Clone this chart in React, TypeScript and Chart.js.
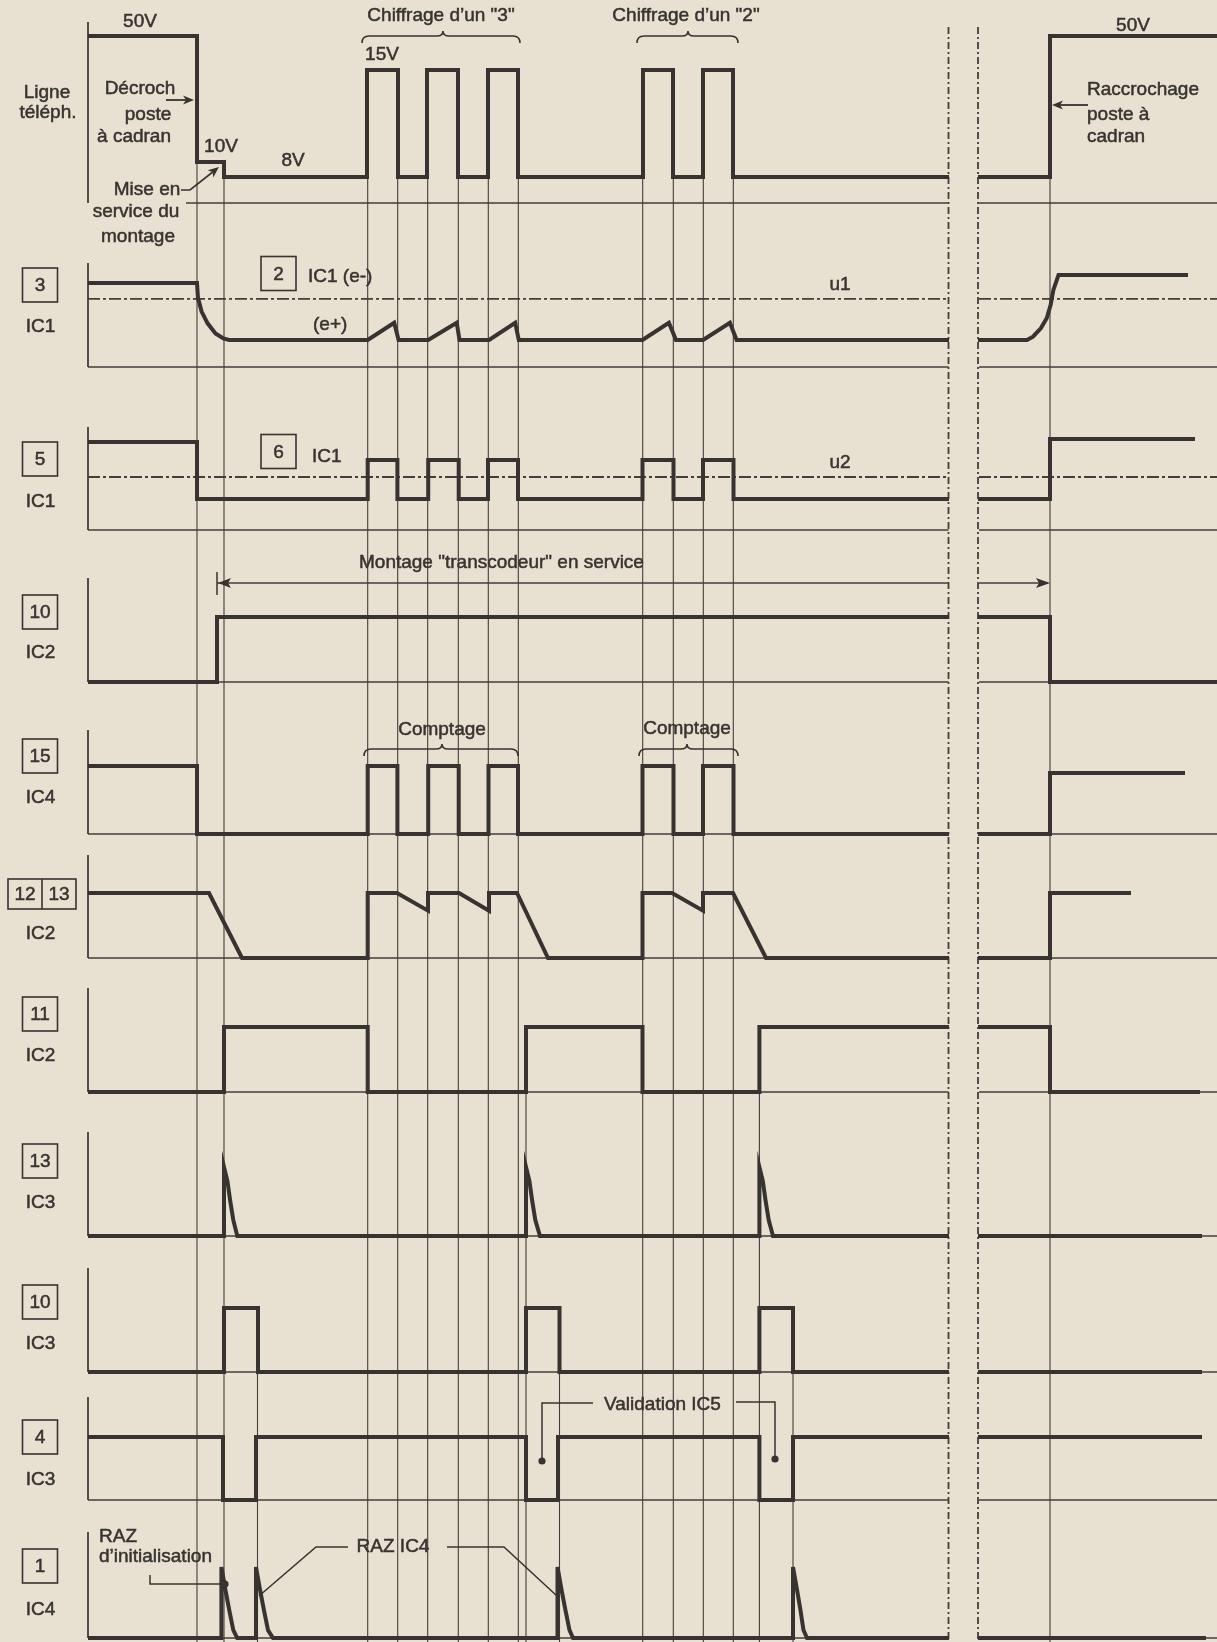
import React, { useEffect, useRef } from 'react';
import { Chart, registerables } from 'chart.js';

Chart.register(...registerables);

const W = 1217;
const H = 1642;
const PAPER = '#e8e0d1';
const INK = '#363330';
const FONT = '19px "Liberation Sans", Arial, Helvetica, sans-serif';

// ---- time axis: break of the time axis (dashed verticals) ----
const breakMarks = [948.5, 978];
const BRK = null;

// ---- signals: [time, level] (level 0 = row baseline, 1 = nominal high) ----
type P = [number, number] | null;

const ligneTel: P[] = [[88, 1], [197, 1], [197, 0.245], [224, 0.245], [224, 0.156], [367, 0.156], [367, 0.796], [398, 0.796], [398, 0.156], [427, 0.156], [427, 0.796], [458, 0.796], [458, 0.156], [488, 0.156], [488, 0.796], [518, 0.796], [518, 0.156], [643, 0.156], [643, 0.796], [673, 0.796], [673, 0.156], [703, 0.156], [703, 0.796], [733, 0.796], [733, 0.156], [949, 0.156], BRK, [978, 0.156], [1050, 0.156], [1050, 1], [1217, 1]];

const ic1Pin3: P[] = [[88, 1], [197, 1], [198, 0.82], [201.6, 0.66], [207.6, 0.52], [215.5, 0.4], [223.4, 0.34], [229, 0.321], [367.7, 0.321], [394.2, 0.527], [398.6, 0.321], [428.2, 0.321], [456.7, 0.527], [459.5, 0.321], [489.1, 0.321], [515.2, 0.527], [518.8, 0.321], [642.5, 0.321], [668.9, 0.527], [676, 0.321], [703.1, 0.321], [729.9, 0.527], [736.6, 0.321], [949, 0.321], BRK, [978, 0.321], [1027, 0.321], [1033, 0.361], [1040.8, 0.461], [1046.7, 0.58], [1050.6, 0.738], [1053.4, 0.917], [1058.5, 1.095], [1188, 1.095]];

const ic1Pin5: P[] = [[88, 1], [197, 1], [197, 0.352], [367.7, 0.352], [367.7, 0.795], [397.4, 0.795], [397.4, 0.352], [428.2, 0.352], [428.2, 0.795], [458.7, 0.795], [458.7, 0.352], [488, 0.352], [488, 0.795], [518, 0.795], [518, 0.352], [642.5, 0.352], [642.5, 0.795], [673.5, 0.795], [673.5, 0.352], [703, 0.352], [703, 0.795], [733.5, 0.795], [733.5, 0.352], [949, 0.352], BRK, [978, 0.352], [1050, 0.352], [1050, 1.034], [1195, 1.034]];

const ic2Pin10: P[] = [[88, 0], [217, 0], [217, 1], [949, 1], BRK, [978, 1], [1050, 1], [1050, 0], [1217, 0]];

const ic4Pin15: P[] = [[88, 1], [197, 1], [197, 0], [367.7, 0], [367.7, 1], [397.4, 1], [397.4, 0], [428.2, 0], [428.2, 1], [458.7, 1], [458.7, 0], [488.5, 0], [488.5, 1], [518, 1], [518, 0], [642.5, 0], [642.5, 1], [673.5, 1], [673.5, 0], [703, 0], [703, 1], [733.5, 1], [733.5, 0], [949, 0], BRK, [978, 0], [1050, 0], [1050, 0.897], [1185, 0.897]];

const ic2Pin1213: P[] = [[88, 1], [209, 1], [242, 0], [367.7, 0], [367.7, 1], [397, 1], [428, 0.728], [428, 1], [459, 1], [489, 0.728], [489, 1], [517, 1], [548, 0], [642.5, 0], [642.5, 1], [672, 1], [703, 0.728], [703, 1], [733, 1], [766, 0], [949, 0], BRK, [978, 0], [1050, 0], [1050, 1], [1131, 1]];

const ic2Pin11: P[] = [[88, 0], [224, 0], [224, 1], [367.7, 1], [367.7, 0], [526, 0], [526, 1], [642.5, 1], [642.5, 0], [759.4, 0], [759.4, 1], [949, 1], BRK, [978, 1], [1050, 1], [1050, 0], [1200, 0]];

const ic3Pin13: P[] = [[88, 0], [224, 0], [224, 1], [227.4, 0.8], [230.1, 0.52], [233.3, 0.23], [237.3, 0], [526, 0], [526, 1], [529.4, 0.8], [532.1, 0.52], [535.3, 0.23], [540, 0], [759.4, 0], [759.4, 1], [762.8, 0.8], [765.5, 0.52], [768.7, 0.23], [773, 0], [949, 0], BRK, [978, 0], [1202, 0]];

const ic3Pin10: P[] = [[88, 0], [224, 0], [224, 1], [258, 1], [258, 0], [526, 0], [526, 1], [559.5, 1], [559.5, 0], [759.4, 0], [759.4, 1], [793, 1], [793, 0], [949, 0], BRK, [978, 0], [1202, 0]];

const ic3Pin4: P[] = [[88, 1], [223, 1], [223, 0], [256, 0], [256, 1], [526, 1], [526, 0], [558, 0], [558, 1], [759.4, 1], [759.4, 0], [793, 0], [793, 1], [949, 1], BRK, [978, 1], [1202, 1]];

const ic4Pin1: P[] = [[88, 0], [221.4, 0], [221.4, 1], [225.4, 0.68], [229.3, 0.39], [233.3, 0.11], [237.2, 0], [256, 0], [256, 1], [260, 0.68], [264, 0.39], [268, 0.11], [273, 0], [557.5, 0], [557.5, 1], [561.5, 0.68], [565.5, 0.39], [569.5, 0.11], [573, 0], [793, 0], [793, 1], [797, 0.68], [800.5, 0.39], [803.5, 0.11], [807, 0], [949, 0], BRK, [978, 0], [1206, 0]];

const signals: P[][] = [ligneTel, ic1Pin3, ic1Pin5, ic2Pin10, ic4Pin15, ic2Pin1213, ic2Pin11, ic3Pin13, ic3Pin10, ic3Pin4, ic4Pin1];

// threshold levels (dash-dot) u1 on row 1, u2 on row 2
const thresholds = [
  { row: 1, level: 0.81, label: 'u1' },
  { row: 2, level: 0.602, label: 'u2' },
];

// row pins / chips
const rowPins: string[][] = [['3'], ['5'], ['10'], ['15'], ['12', '13'], ['11'], ['13'], ['10'], ['4'], ['1']];
const rowChips = ['IC1', 'IC1', 'IC2', 'IC4', 'IC2', 'IC2', 'IC3', 'IC3', 'IC3', 'IC4'];

// guide verticals: [time, row where it starts, level where it starts]
const guides: [number, number, number][] = [
  [197, 0, 0.245], [224, 0, 0.156],
  [367.7, 0, 0.156], [397.7, 0, 0.156], [427.7, 0, 0.156], [458.3, 0, 0.156], [488.3, 0, 0.156], [518.3, 0, 0.156],
  [642.7, 0, 0.156], [673.3, 0, 0.156], [703.3, 0, 0.156], [733.3, 0, 0.156],
  [1050, 0, 0.156],
  [526, 6, 1], [759.4, 6, 1],
  [257.5, 8, 1], [559.5, 8, 1], [793, 8, 1],
];

// ---- layout (positions in diagram units) ----
const rowLayout = [
  { base: 203, amp: 167, top: 22, from: 186 },
  { base: 367, amp: 84, top: 263, from: 88 },
  { base: 530, amp: 88, top: 427, from: 88 },
  { base: 682, amp: 65, top: 578, from: 88 },
  { base: 834, amp: 68, top: 730, from: 88 },
  { base: 958, amp: 65, top: 855, from: 88 },
  { base: 1092, amp: 65, top: 988, from: 88 },
  { base: 1236, amp: 69, top: 1132, from: 88 },
  { base: 1372, amp: 64, top: 1268, from: 88 },
  { base: 1500, amp: 63, top: 1397, from: 88 },
  { base: 1638, amp: 71, top: 1532, from: 88 },
];
const pinBoxY = [285, 459, 612, 756, 894, 1014, 1161, 1302, 1437, 1566];
const chipY = [327, 502, 653, 798, 934, 1056, 1203, 1344, 1480, 1610];

const texts: [string, number, number, CanvasTextAlign][] = [
  ['50V', 140, 22, 'center'],
  ['Ligne', 47, 93, 'center'],
  ['téléph.', 48, 113, 'center'],
  ['Décroch', 140, 89, 'center'],
  ['poste', 148, 115, 'center'],
  ['à cadran', 134, 137, 'center'],
  ['10V', 221, 147, 'center'],
  ['8V', 293, 161, 'center'],
  ['Mise en', 147, 190, 'center'],
  ['service du', 136, 212, 'center'],
  ['montage', 138, 237, 'center'],
  ['15V', 382, 55, 'center'],
  ['Chiffrage d’un "3"', 441, 16, 'center'],
  ['Chiffrage d’un "2"', 686, 16, 'center'],
  ['50V', 1133, 26, 'center'],
  ['Raccrochage', 1087, 90, 'left'],
  ['poste à', 1087, 115, 'left'],
  ['cadran', 1087, 137, 'left'],
  ['IC1 (e-)', 308, 277, 'left'],
  ['(e+)', 313, 325, 'left'],
  ['IC1', 312, 457, 'left'],
  ['Montage "transcodeur" en service', 359, 563, 'left'],
  ['Comptage', 442, 730, 'center'],
  ['Comptage', 687, 729, 'center'],
  ['Validation IC5', 604, 1405, 'left'],
  ['RAZ', 99, 1537, 'left'],
  ['d’initialisation', 99, 1557, 'left'],
  ['RAZ IC4', 393, 1547, 'center'],
];
const innerBoxes: [string, number, number][] = [['2', 278.5, 273.5], ['6', 278.5, 451.5]];

const toY = (row: number, level: number) => rowLayout[row].base - level * rowLayout[row].amp;

function buildDatasets() {
  const ds: any[] = [];
  const thick = (data: any[]) => ({ data, borderColor: INK, borderWidth: 4, order: 1, pointRadius: 0, fill: false, tension: 0, borderJoinStyle: 'miter', borderCapStyle: 'butt', spanGaps: false });
  const thin = (data: any[], w = 1.4, dash: number[] = []) => ({ data, borderColor: '#423e3a', borderWidth: w, borderDash: dash, order: 5, pointRadius: 0, fill: false, tension: 0, spanGaps: false });

  signals.forEach((sig, r) => {
    ds.push(thick(sig.map((p) => (p ? { x: p[0], y: toY(r, p[1]) } : { x: 963, y: null }))));
  });
  rowLayout.forEach((rl) => {
    ds.push(thin([{ x: 88, y: rl.top }, { x: 88, y: rl.base }], 1.8));
    ds.push(thin([{ x: rl.from, y: rl.base }, { x: breakMarks[0], y: rl.base }, { x: 963, y: null }, { x: breakMarks[1] + 1, y: rl.base }, { x: W, y: rl.base }], 1.6));
  });
  thresholds.forEach((t) => {
    const y = toY(t.row, t.level);
    ds.push(thin([{ x: 88, y }, { x: breakMarks[0], y }, { x: 963, y: null }, { x: breakMarks[1] + 1, y }, { x: W, y }], 1.8, [12, 3, 3, 3]));
  });
  guides.forEach(([t, r, lv]) => {
    ds.push(thin([{ x: t, y: toY(r, lv) }, { x: t, y: H }], 1.1));
  });
  breakMarks.forEach((t) => {
    ds.push(thin([{ x: t, y: 27 }, { x: t, y: H }], 1.8, [7, 3, 2, 3]));
  });
  ds.push(thin([{ x: 217, y: 583 }, { x: breakMarks[0], y: 583 }, { x: 963, y: null }, { x: breakMarks[1] + 1, y: 583 }, { x: 1048, y: 583 }], 1.6));
  ds.push(thin([{ x: 217, y: 572 }, { x: 217, y: 595 }], 1.6));
  return ds;
}

const annotations = {
  id: 'annotations',
  beforeDraw(chart: any) {
    const c = chart.ctx;
    c.save();
    c.fillStyle = PAPER;
    c.fillRect(0, 0, chart.width, chart.height);
    c.restore();
  },
  afterDatasetsDraw(chart: any) {
    const c: CanvasRenderingContext2D = chart.ctx;
    const X = (v: number) => chart.scales.x.getPixelForValue(v);
    const Y = (v: number) => chart.scales.y.getPixelForValue(v);
    c.save();
    c.strokeStyle = INK;
    c.fillStyle = INK;
    c.lineWidth = 1.5;
    c.font = FONT;
    c.textBaseline = 'middle';

    const poly = (pts: number[][], w = 1.5) => {
      c.lineWidth = w;
      c.beginPath();
      pts.forEach(([x, y], i) => (i ? c.lineTo(X(x), Y(y)) : c.moveTo(X(x), Y(y))));
      c.stroke();
    };
    const head = (x: number, y: number, dx: number, dy: number, len = 11, wid = 4.5) => {
      const n = Math.hypot(dx, dy);
      const ux = dx / n, uy = dy / n;
      const bx = X(x) - ux * len, by = Y(y) - uy * len;
      c.beginPath();
      c.moveTo(X(x), Y(y));
      c.lineTo(bx - uy * wid, by + ux * wid);
      c.lineTo(bx + ux * 3, by + uy * 3);
      c.lineTo(bx + uy * wid, by - ux * wid);
      c.closePath();
      c.fill();
    };
    const dot = (x: number, y: number) => {
      c.beginPath();
      c.arc(X(x), Y(y), 3.6, 0, Math.PI * 2);
      c.fill();
    };
    const brace = (x1: number, x2: number, xm: number, yLine: number) => {
      const yEnd = yLine + 7, yPeak = yLine - 5;
      c.lineWidth = 1.6;
      c.beginPath();
      c.moveTo(X(x1), Y(yEnd));
      c.quadraticCurveTo(X(x1), Y(yLine), X(x1 + 7), Y(yLine));
      c.lineTo(X(xm - 6), Y(yLine));
      c.quadraticCurveTo(X(xm), Y(yLine), X(xm), Y(yPeak));
      c.quadraticCurveTo(X(xm), Y(yLine), X(xm + 6), Y(yLine));
      c.lineTo(X(x2 - 7), Y(yLine));
      c.quadraticCurveTo(X(x2), Y(yLine), X(x2), Y(yEnd));
      c.stroke();
    };
    const label = (t: string, x: number, y: number) => {
      c.lineWidth = 0.5;
      c.strokeText(t, x, y);
      c.fillText(t, x, y);
    };

    brace(362, 520, 443, 36);
    brace(637, 738, 688, 36);
    brace(364, 518, 442, 749);
    brace(639, 738, 687, 749);

    poly([[166, 100], [190, 100]], 1.8);
    head(194, 100, 1, 0);
    poly([[181, 190], [190, 190], [214, 171]], 1.6);
    head(219, 167, 1, -0.8);
    poly([[1088, 105], [1058, 105]], 1.8);
    head(1052, 105, -1, 0);
    head(218, 583, -1, 0, 13, 5);
    head(1050, 583, 1, 0, 14, 5);

    poly([[593, 1403], [542, 1403], [542, 1460]]);
    dot(542, 1461);
    poly([[736, 1402], [775, 1402], [775, 1458]]);
    dot(775, 1459);
    poly([[150, 1575], [150, 1584], [222, 1584]]);
    dot(225, 1584);
    poly([[348, 1547], [316, 1547], [259, 1596]]);
    poly([[447, 1547], [504, 1547], [557, 1596]]);

    texts.forEach(([t, x, y, al]) => {
      c.textAlign = al;
      label(t, X(x), Y(y));
    });
    thresholds.forEach((t) => {
      c.textAlign = 'center';
      label(t.label, X(840), Y(toY(t.row, t.level) - 14));
    });

    c.textAlign = 'center';
    const boxW = 35, boxH = 34;
    rowPins.forEach((pins, i) => {
      const cy = pinBoxY[i];
      c.lineWidth = 1.6;
      if (pins.length === 1) {
        c.strokeRect(X(40 - boxW / 2), Y(cy - boxH / 2), boxW, boxH);
        label(pins[0], X(40), Y(cy + 1));
      } else {
        c.strokeRect(X(8), Y(cy - 15), 68, 30);
        poly([[42, cy - 15], [42, cy + 15]], 1.6);
        label(pins[0], X(25), Y(cy + 1));
        label(pins[1], X(59), Y(cy + 1));
      }
      label(rowChips[i], X(40.5), Y(chipY[i]));
    });
    innerBoxes.forEach(([t, x, y]) => {
      c.lineWidth = 1.6;
      c.strokeRect(X(x - boxW / 2), Y(y - boxH / 2), boxW, boxH);
      label(t, X(x), Y(y + 1));
    });
    c.restore();
  },
};

export default function App() {
  const ref = useRef<HTMLCanvasElement>(null);
  useEffect(() => {
    document.body.style.margin = '0';
    document.body.style.background = PAPER;
    const chart = new Chart(ref.current as HTMLCanvasElement, {
      type: 'line',
      data: { datasets: buildDatasets() },
      options: {
        responsive: false,
        animation: false,
        devicePixelRatio: 1,
        events: [],
        layout: { padding: 0 },
        plugins: { legend: { display: false }, tooltip: { enabled: false } },
        scales: {
          x: { type: 'linear', min: 0, max: W, display: false },
          y: { type: 'linear', min: 0, max: H, reverse: true, display: false },
        },
        elements: { point: { radius: 0 }, line: { tension: 0 } },
      } as any,
      plugins: [annotations],
    });
    return () => chart.destroy();
  }, []);
  return (
    <div style={{ position: 'absolute', left: 0, top: 0, width: W, height: H }}>
      <canvas ref={ref} width={W} height={H} style={{ display: 'block', width: W, height: H }} />
    </div>
  );
}
